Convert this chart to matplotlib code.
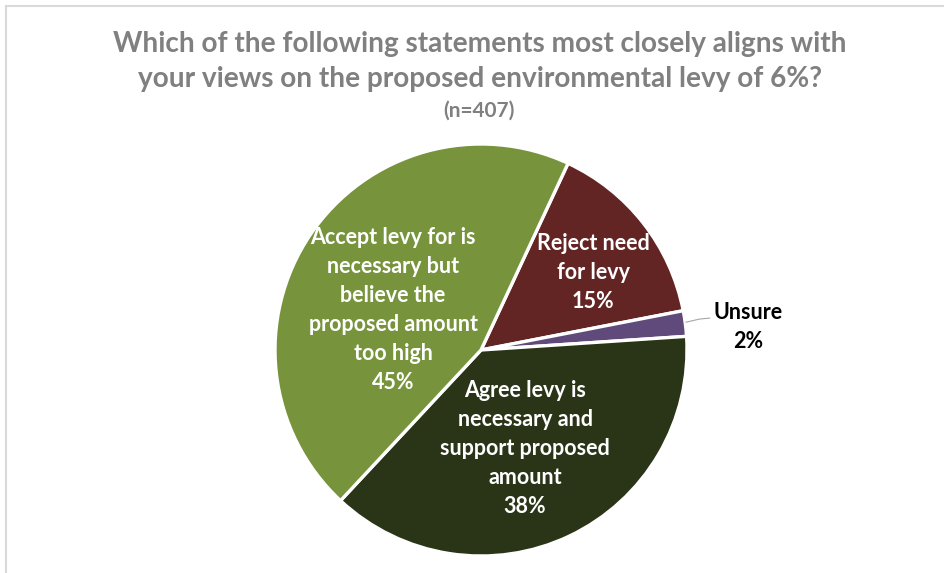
import matplotlib.pyplot as plt
from matplotlib.lines import Line2D

# survey answers (n=407), in clockwise order starting from "Reject"
labels = ['Reject need\nfor levy', 'Unsure',
          'Agree levy is\nnecessary and\nsupport proposed\namount',
          'Accept levy for is\nnecessary but\nbelieve the\nproposed amount\ntoo high']
shares = [15, 2, 38, 45]
colors = ['#632523', '#604A7B', '#2A3518', '#77933C']

title_lines = ['Which of the following statements most closely aligns with',
               'your views on the proposed environmental levy of 6%?']

plt.rcParams['font.family'] = ['Lato', 'DejaVu Sans']

W, H = 944, 573
fig = plt.figure(figsize=(W/100, H/100), dpi=100)

# light gray chart border (top and left visible)
fig.add_artist(Line2D([5.5/W, 5.5/W], [0, 1 - 6/H], color='#D9D9D9', lw=1.5))
fig.add_artist(Line2D([5.5/W, 1], [1 - 6/H, 1 - 6/H], color='#D9D9D9', lw=1.5))

for line, base in zip(title_lines, [52, 87]):
    fig.text(480/W, 1 - base/H, line, ha='center', va='baseline',
             fontsize=20.2, fontweight='bold', color='#808080')
fig.text(479/W, 1 - 111/H, '(n=407)', ha='center', va='center',
         fontsize=15, fontweight='bold', color='#808080')

ax = fig.add_axes([172/W, -3.6/H, 618/W, 453.2/H])
wedges, _ = ax.pie(shares, colors=colors, startangle=65, counterclock=False,
                   radius=1, wedgeprops=dict(edgecolor='white', linewidth=2.4))
ax.set_xlim(-1.5, 1.5)
ax.set_ylim(-1.1, 1.1)
ax.axis('off')

# in-slice labels
pos = [(0.544, 0.374), None, (0.214, -0.476), (-0.427, 0.194)]
for lab, s, p in zip(labels, shares, pos):
    if p is None:
        continue
    ax.text(p[0], p[1], f'{lab}\n{s}%', ha='center', va='center',
            color='white', fontsize=15.5, fontweight='bold', linespacing=1.47)

# outside label for the small slice
ax.text(1.296, 0.112, f'{labels[1]}\n{shares[1]}%', ha='center', va='center',
        color='black', fontsize=15.5, fontweight='bold', linespacing=1.47)
ax.plot([0.995, 1.06, 1.11], [0.135, 0.15, 0.155], color='#A6A6A6', lw=0.8)

fig.savefig('out.png', dpi=100, facecolor='white')
